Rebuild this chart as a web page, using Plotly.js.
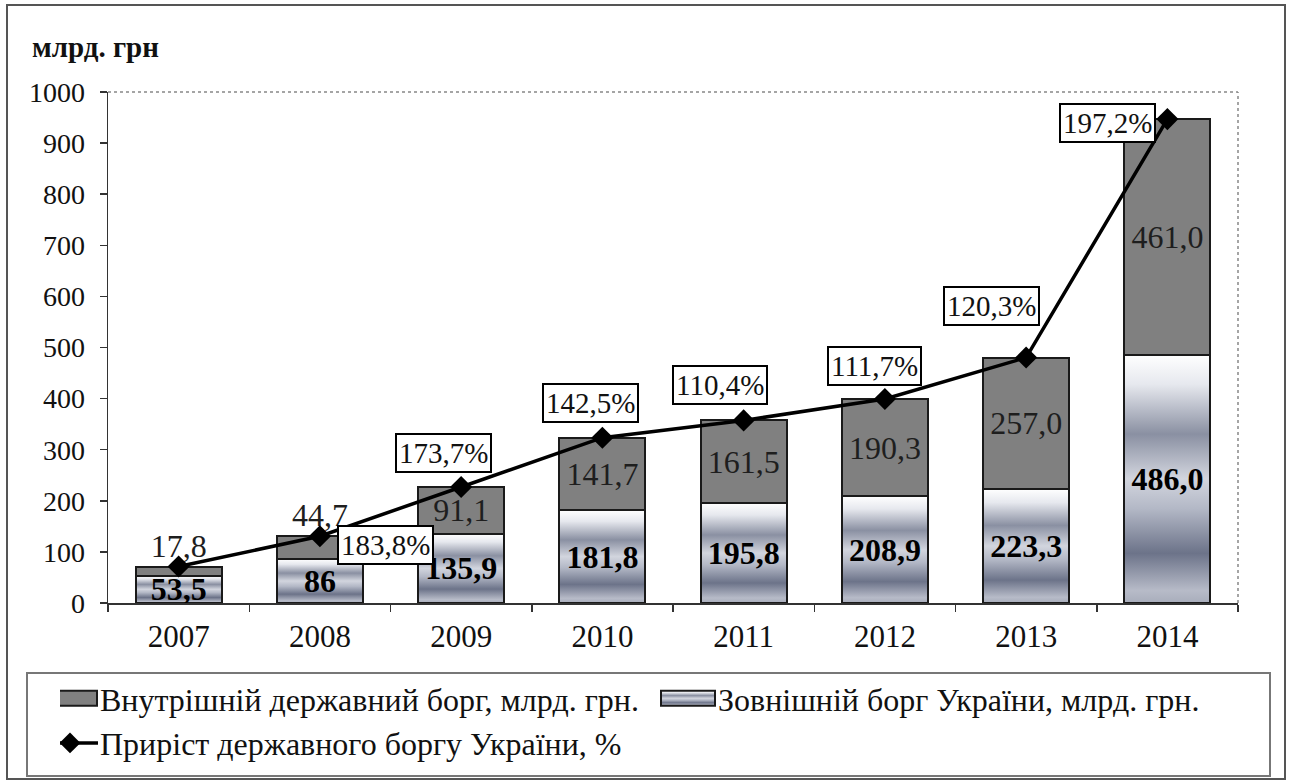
<!DOCTYPE html>
<html>
<head>
<meta charset="utf-8">
<script src="https://cdn.plot.ly/plotly-3.0.1.min.js"></script>
<style>
html,body{margin:0;padding:0;background:#fff;}
#chart{width:1291px;height:780px;}
</style>
</head>
<body>
<div id="chart"></div>
<script>
// ---- data ----
const years = ['2007','2008','2009','2010','2011','2012','2013','2014'];
const externalDebt = [53.5, 86, 135.9, 181.8, 195.8, 208.9, 223.3, 486.0];
const externalLabels = ['53,5','86','135,9','181,8','195,8','208,9','223,3','486,0'];
const internalDebt = [17.8, 44.7, 91.1, 141.7, 161.5, 190.3, 257.0, 461.0];
const internalLabels = ['17,8','44,7','91,1','141,7','161,5','190,3','257,0','461,0'];
const growthPct = [null, 183.8, 173.7, 142.5, 110.4, 111.7, 120.3, 197.2];
const growthLabels = ['', '183,8%', '173,7%', '142,5%', '110,4%', '111,7%', '120,3%', '197,2%'];

const seriesNames = {
  internal: 'Внутрішній державний борг, млрд. грн.',
  external: 'Зовнішній борг України, млрд. грн.',
  growth: 'Приріст державного боргу України, %'
};

const totals = externalDebt.map((v, i) => +(v + internalDebt[i]).toFixed(1));

// ---- styles ----
const FONT = '"Liberation Serif", "Times New Roman", Times, serif';
const labelShift = [null, [66,-9], [-18,34], [-12,35], [-24,35], [-10,33], [-35,52], [-60,-4]];
const internalPos = ['outside','outside','inside','inside','inside','inside','inside','inside'];

const traces = [
  {
    type: 'bar', name: seriesNames.external, x: years, y: externalDebt,
    text: externalLabels, textposition: 'inside', insidetextanchor: 'middle',
    constraintext: 'none', textangle: 0,
    textfont: {family: FONT, size: 32, color: '#000', weight: 'bold'},
    marker: {color: '#b4b9c6', line: {color: '#1a1a1a', width: 2}},
    legendrank: 2, hoverinfo: 'skip'
  },
  {
    type: 'bar', name: seriesNames.internal, x: years, y: internalDebt,
    text: internalLabels, textposition: internalPos, insidetextanchor: 'middle',
    constraintext: 'none', textangle: 0, cliponaxis: false,
    textfont: {family: FONT, size: 32, color: '#1e1e1e'},
    outsidetextfont: {family: FONT, size: 32, color: '#1e1e1e'},
    marker: {color: '#808080', line: {color: '#1a1a1a', width: 2}},
    legendrank: 1, hoverinfo: 'skip'
  },
  {
    type: 'scatter', mode: 'lines+markers', name: seriesNames.growth,
    x: years, y: totals, cliponaxis: false,
    line: {color: '#000', width: 3.5},
    marker: {symbol: 'diamond', size: 17, color: '#000'},
    legendrank: 3, hoverinfo: 'skip'
  }
];

const annotations = [];
growthPct.forEach((g, i) => {
  if (g === null) return;
  annotations.push({
    x: i, y: totals[i], xref: 'x', yref: 'y',
    text: growthLabels[i], showarrow: false,
    xshift: labelShift[i][0], yshift: labelShift[i][1],
    xanchor: 'center', yanchor: 'middle',
    font: {family: FONT, size: 29, color: '#111'},
    bgcolor: '#fff', bordercolor: '#000', borderwidth: 2, borderpad: 2
  });
});

// pixel -> paper helpers for frame shapes (plot area 108..1238 x 92..603)
const px = p => (p - 108) / 1130;
const py = p => (603 - p) / 511;

const shapes = [
  {type: 'rect', xref: 'paper', yref: 'paper', x0: px(7), x1: px(1285), y0: py(5), y1: py(779),
   line: {color: '#555', width: 2}, fillcolor: 'rgba(0,0,0,0)', layer: 'below'},
  {type: 'rect', xref: 'paper', yref: 'paper', x0: px(27), x1: px(1270), y0: py(673), y1: py(776),
   line: {color: '#777', width: 2}, fillcolor: 'rgba(0,0,0,0)', layer: 'below'},
  {type: 'line', xref: 'paper', yref: 'paper', x0: 0, x1: 1, y0: 1, y1: 1,
   line: {color: '#888', width: 1.5, dash: 'dot'}, layer: 'below'},
  {type: 'line', xref: 'paper', yref: 'paper', x0: 1, x1: 1, y0: 0, y1: 1,
   line: {color: '#888', width: 1.5, dash: 'dot'}, layer: 'below'}
];

const layout = {
  width: 1291, height: 780,
  margin: {l: 108, r: 53, t: 92, b: 177, autoexpand: false},
  paper_bgcolor: '#fff', plot_bgcolor: '#fff',
  separators: ', ',
  barmode: 'stack', bargap: 0.39,
  showlegend: true,
  font: {family: FONT, color: '#111'},
  title: {
    text: '<b>млрд. грн</b>', x: 32/1291, xanchor: 'left', xref: 'container',
    y: 1 - 47/780, yanchor: 'middle', yref: 'container',
    font: {family: FONT, size: 29, color: '#111'}
  },
  xaxis: {
    type: 'category', range: [-0.5, 7.5],
    showline: true, linecolor: '#333', linewidth: 1.5,
    ticks: 'outside', tickson: 'boundaries', ticklen: 7, tickcolor: '#333', tickwidth: 1.5,
    tickfont: {family: FONT, size: 31, color: '#111'}, ticklabelstandoff: 5,
    showgrid: false, zeroline: false, fixedrange: true, automargin: false
  },
  yaxis: {
    range: [0, 1000], dtick: 100, tick0: 0,
    showline: true, linecolor: '#333', linewidth: 1.5,
    ticks: 'outside', ticklen: 7, tickcolor: '#333', tickwidth: 1.5,
    tickfont: {family: FONT, size: 28, color: '#111'}, ticklabelstandoff: 9,
    showgrid: false, zeroline: false, fixedrange: true, automargin: false
  },
  legend: {
    orientation: 'h', x: px(60), xanchor: 'left', y: py(671), yanchor: 'top',
    traceorder: 'normal', font: {family: FONT, size: 32, color: '#111'},
    bgcolor: 'rgba(0,0,0,0)', borderwidth: 0, itemwidth: 30, tracegroupgap: 0,
    entrywidth: 573, entrywidthmode: 'pixels'
  },
  annotations: annotations,
  shapes: shapes
};

Plotly.newPlot('chart', traces, layout, {displayModeBar: false, staticPlot: true}).then(gd => {
  // metallic gradient for the external-debt bars
  const svgNS = 'http://www.w3.org/2000/svg';
  const svg = gd.querySelector('svg.main-svg');
  let defs = svg.querySelector('defs');
  if (!defs) { defs = document.createElementNS(svgNS, 'defs'); svg.insertBefore(defs, svg.firstChild); }
  const grad = document.createElementNS(svgNS, 'linearGradient');
  grad.setAttribute('id', 'extGrad');
  grad.setAttribute('x1', '0'); grad.setAttribute('y1', '0');
  grad.setAttribute('x2', '0'); grad.setAttribute('y2', '1');
  [[0, '#ffffff'], [0.12, '#e6e8ee'], [0.32, '#8a90a2'], [0.5, '#d2d5de'], [0.62, '#b3b8c6'],
   [0.8, '#6c7389'], [0.95, '#b7bbc8'], [1, '#a8adbb']].forEach(([o, c]) => {
    const s = document.createElementNS(svgNS, 'stop');
    s.setAttribute('offset', o); s.setAttribute('stop-color', c);
    grad.appendChild(s);
  });
  defs.appendChild(grad);
  const barTraces = gd.querySelectorAll('.barlayer .trace');
  if (barTraces[0]) barTraces[0].querySelectorAll('path').forEach(p => { p.style.fill = 'url(#extGrad)'; });

  // legend symbols: wide rectangles / longer line, aligned just left of the text
  const shiftTo = (el, targetLeft) => {
    const r = el.getBoundingClientRect();
    const dx = targetLeft - r.left;
    const prev = el.getAttribute('transform') || '';
    el.setAttribute('transform', (prev + ' translate(' + dx.toFixed(2) + ',0)').trim());
  };
  gd.querySelectorAll('.legend .traces').forEach(t => {
    const txt = t.querySelector('.legendtext');
    if (!txt) return;
    const name = txt.textContent;
    const tl = txt.getBoundingClientRect().left;
    if (name === seriesNames.external || name === seriesNames.internal) {
      const bp = t.querySelector('.legendpoints path');
      if (bp) {
        bp.setAttribute('d', 'M0,-7.5h54v15h-54z');
        if (name === seriesNames.external) bp.style.fill = 'url(#extGrad)';
        shiftTo(bp, tl - 57);
      }
    } else if (name === seriesNames.growth) {
      const lp = t.querySelector('.legendlines path');
      if (lp) { lp.setAttribute('d', 'M0,0h56'); shiftTo(lp, tl - 58); }
      const mp = t.querySelector('.legendpoints path');
      if (mp) {
        const r = mp.getBoundingClientRect();
        shiftTo(mp, tl - 30 - r.width / 2);
      }
    }
  });
});
</script>
</body>
</html>
